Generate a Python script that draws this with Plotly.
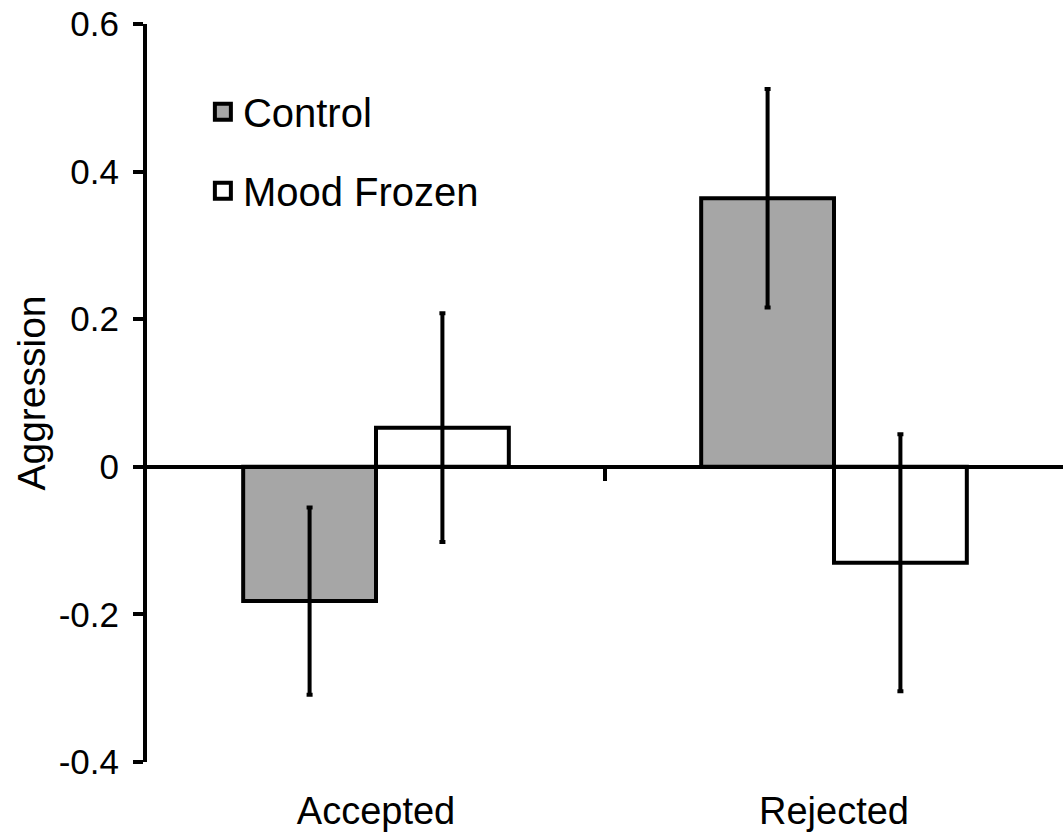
import plotly.graph_objects as go

categories = ["Accepted", "Rejected"]
series_names = ["Control", "Mood Frozen"]
control_values = [-0.182, 0.364]
control_errors = [0.127, 0.148]
frozen_values = [0.053, -0.130]
frozen_errors = [0.155, 0.174]
y_tick_values = [-0.4, -0.2, 0, 0.2, 0.4, 0.6]
y_tick_labels = ["-0.4", "-0.2", "0", "0.2", "0.4", "0.6"]

FONT = "Liberation Sans, Arial, sans-serif"
GRAY = "#A6A6A6"
fills = [GRAY, "white"]

fig = go.Figure()
for name, vals, errs, fill in zip(series_names, [control_values, frozen_values],
                                  [control_errors, frozen_errors], fills):
    fig.add_trace(go.Bar(
        x=categories, y=vals, name=name, showlegend=False,
        marker=dict(color=fill, line=dict(color="black", width=4)),
        error_y=dict(type="data", array=errs, color="black", thickness=4, width=3),
    ))

# legend entries (square markers), drawn on the zero-line axis
for i, (name, fill) in enumerate(zip(series_names, fills)):
    fig.add_trace(go.Scatter(
        x=[None], y=[None], mode="markers", name=name, xaxis="x2",
        legendgroup=f"g{i}",
        marker=dict(symbol="square", size=16, color=fill,
                    line=dict(color="black", width=4)),
    ))

mid = (len(categories) - 1) / 2
rng = [-0.5, len(categories) - 0.5]
zero_pos = (0 - y_tick_values[0]) / (y_tick_values[-1] - y_tick_values[0])

fig.update_layout(
    width=1063, height=835,
    margin=dict(l=147, r=0, t=24, b=73, autoexpand=False),
    paper_bgcolor="white", plot_bgcolor="white",
    font=dict(family=FONT, color="black"),
    barmode="group", bargap=0.42, bargroupgap=0,
    showlegend=True,
    legend=dict(
        x=0.061, y=0.925, xanchor="left", yanchor="top",
        font=dict(size=40, family=FONT, color="black"),
        bgcolor="rgba(0,0,0,0)", traceorder="grouped", tracegroupgap=24,
        itemwidth=30,
    ),
    xaxis=dict(
        type="category", range=rng, showline=False, ticks="", showgrid=False,
        zeroline=False, automargin=False, ticklabelstandoff=23,
        tickfont=dict(size=38, family=FONT, color="black"),
    ),
    xaxis2=dict(
        type="linear", overlaying="x", anchor="free", position=zero_pos,
        range=rng, showline=True, linecolor="black", linewidth=4,
        tickvals=[mid], ticks="outside", ticklen=12, tickwidth=4, tickcolor="black",
        showticklabels=False, showgrid=False, zeroline=False, automargin=False,
    ),
    yaxis=dict(
        range=[y_tick_values[0], y_tick_values[-1]],
        tickvals=y_tick_values, ticktext=y_tick_labels,
        showline=True, linecolor="black", linewidth=4,
        ticks="outside", ticklen=10, tickwidth=4, tickcolor="black",
        showgrid=False, zeroline=False, automargin=False, ticklabelstandoff=7,
        tickfont=dict(size=35, family=FONT, color="black"),
        title=dict(text="Aggression", font=dict(size=39, family=FONT, color="black"),
                   standoff=2),
    ),
)

fig.write_html("out.html", config={"displayModeBar": False},
               post_script="document.body.style.margin='0';")
